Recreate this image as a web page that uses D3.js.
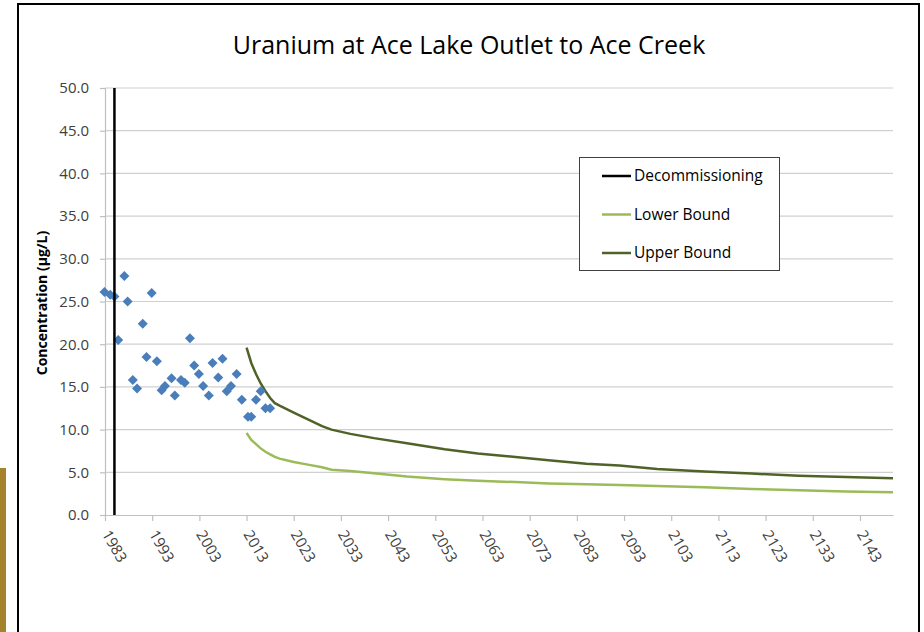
<!DOCTYPE html>
<html>
<head>
<meta charset="utf-8">
<script src="https://cdn.jsdelivr.net/npm/d3@7"></script>
<style>
  body { margin: 0; background: #fff; }
  svg { display: block; font-family: "Open Sans", "Noto Sans", sans-serif; }
</style>
</head>
<body>
<script>
const width = 924;
const height = 632;

// measured concentrations (decimal year, ug/L)
const sampleYears = [1982.9, 1984.1, 1985.0, 1985.8, 1987.1, 1987.8, 1988.9, 1989.8, 1991.0, 1991.8,
    1992.9, 1994.0, 1995.0, 1995.7, 1997.1, 1997.8, 1999.1, 1999.9, 2001.0, 2001.9,
    2002.9, 2003.8, 2005.0, 2005.8, 2007.0, 2007.9, 2008.8, 2009.7, 2010.9, 2012.0,
    2013.3, 2014.0, 2015.0, 2016.0, 2017.0, 2018.0];
const sampleValues = [26.1, 25.8, 25.6, 20.5, 28.0, 25.0, 15.8, 14.8, 22.4, 18.5,
    26.0, 18.0, 14.6, 15.1, 16.0, 14.0, 15.8, 15.5, 20.7, 17.5,
    16.5, 15.1, 14.0, 17.8, 16.1, 18.3, 14.5, 15.1, 16.5, 13.5,
    11.5, 11.5, 13.5, 14.5, 12.5, 12.5];

// projections
const projYears = [2013, 2014, 2015, 2016, 2017, 2018, 2019, 2020, 2023, 2026, 2029, 2031, 2035,
    2040, 2047, 2055, 2062, 2070, 2077, 2085, 2092, 2100, 2110, 2120, 2130, 2140, 2150];
const upperBound = [19.6, 17.8, 16.5, 15.4, 14.5, 13.7, 13.1, 12.8, 12.0, 11.2, 10.4, 10.0, 9.5,
    9.0, 8.4, 7.7, 7.2, 6.8, 6.4, 6.0, 5.8, 5.4, 5.1, 4.85, 4.6, 4.45, 4.3];
const lowerBound = [9.6, 8.8, 8.3, 7.8, 7.4, 7.1, 6.8, 6.6, 6.2, 5.9, 5.6, 5.3, 5.15,
    4.9, 4.5, 4.2, 4.0, 3.85, 3.7, 3.6, 3.5, 3.4, 3.25, 3.05, 2.9, 2.75, 2.65];

const decommissioningYear = 1985;

const xTicks = d3.range(1983, 2144, 10);
const yTicks = d3.range(0, 50.1, 5);

const legendItems = [
    { name: 'Decommissioning', color: '#000000' },
    { name: 'Lower Bound', color: '#9bbb59' },
    { name: 'Upper Bound', color: '#4f6228' }
];

const svg = d3.select('body')
    .append('svg')
    .attr('width', width)
    .attr('height', height);

// slide decoration + frame
svg.append('rect')
    .attr('x', 0).attr('y', 468)
    .attr('width', 6).attr('height', height - 468)
    .attr('fill', '#a3832b');

svg.append('path')
    .attr('d', `M18,${height} V4 H919 V${height}`)
    .attr('fill', 'none')
    .attr('stroke', '#000')
    .attr('stroke-width', 2);

const x = d3.scaleLinear().domain([1983, 2150]).range([105, 893]);
const y = d3.scaleLinear().domain([0, 50]).range([515, 88]);

// gridlines
svg.append('g')
    .selectAll('line')
    .data(yTicks.slice(1))
    .enter()
    .append('line')
    .attr('x1', x.range()[0])
    .attr('x2', x.range()[1])
    .attr('y1', (d) => y(d))
    .attr('y2', (d) => y(d))
    .attr('stroke', '#d0d0d0')
    .attr('stroke-width', 1.2);

// y axis
const yAxis = svg.append('g')
    .attr('transform', `translate(${x.range()[0]},0)`)
    .call(d3.axisLeft(y).tickValues(yTicks).tickFormat(d3.format('.1f')).tickSize(5).tickPadding(11));
yAxis.select('.domain').attr('stroke', '#c0c0c0').attr('stroke-width', 1.2);
yAxis.selectAll('.tick line').attr('stroke', '#c0c0c0').attr('stroke-width', 1.2);
yAxis.selectAll('.tick text')
    .attr('fill', '#404040')
    .style('font-size', '15px')
    .style('font-family', '"Open Sans", sans-serif');

// x axis
const xAxis = svg.append('g')
    .attr('transform', `translate(0,${y(0)})`)
    .call(d3.axisBottom(x).tickValues(xTicks).tickFormat(d3.format('d')).tickSize(6).tickSizeOuter(0));
xAxis.select('.domain').attr('stroke', '#c0c0c0').attr('stroke-width', 1.2);
xAxis.selectAll('.tick line').attr('stroke', '#c0c0c0').attr('stroke-width', 1.2);
xAxis.selectAll('.tick text')
    .attr('fill', '#404040')
    .attr('text-anchor', 'start')
    .attr('dy', null)
    .attr('y', 0)
    .attr('transform', 'translate(-4,19) rotate(60)')
    .style('font-size', '15px')
    .style('font-family', '"Open Sans", sans-serif');

// projection lines
const line = d3.line()
    .x((d) => x(d[0]))
    .y((d) => y(d[1]));

svg.append('path')
    .datum(d3.zip(projYears, lowerBound))
    .attr('d', line)
    .attr('fill', 'none')
    .attr('stroke', '#9bbb59')
    .attr('stroke-width', 2.5);

svg.append('path')
    .datum(d3.zip(projYears, upperBound))
    .attr('d', line)
    .attr('fill', 'none')
    .attr('stroke', '#4f6228')
    .attr('stroke-width', 2.5);

// measured points
svg.append('g')
    .selectAll('path')
    .data(d3.zip(sampleYears, sampleValues))
    .enter()
    .append('path')
    .attr('d', d3.symbol().type(d3.symbolSquare).size(50))
    .attr('transform', (d) => `translate(${x(d[0])},${y(d[1])}) rotate(45)`)
    .attr('fill', '#4a7ebb');

// decommissioning
svg.append('line')
    .attr('x1', x(decommissioningYear))
    .attr('x2', x(decommissioningYear))
    .attr('y1', y(0))
    .attr('y2', y(50))
    .attr('stroke', '#000')
    .attr('stroke-width', 2.5);

// title
svg.append('text')
    .attr('x', 469)
    .attr('y', 54)
    .attr('text-anchor', 'middle')
    .attr('fill', '#000')
    .style('font-size', '25px')
    .text('Uranium at Ace Lake Outlet to Ace Creek');

svg.append('text')
    .attr('transform', 'translate(47,303) rotate(-90)')
    .attr('text-anchor', 'middle')
    .attr('fill', '#000')
    .style('font-size', '14px')
    .style('font-weight', 'bold')
    .text('Concentration (µg/L)');

// legend
const legend = svg.append('g');
legend.append('rect')
    .attr('x', 579.5).attr('y', 157.5)
    .attr('width', 200).attr('height', 113)
    .attr('fill', '#fff')
    .attr('stroke', '#404040')
    .attr('stroke-width', 1);

const item = legend.selectAll('g.item')
    .data(legendItems)
    .enter()
    .append('g')
    .attr('class', 'item')
    .attr('transform', (d, i) => `translate(602,${176 + i * 38.5})`);

item.append('line')
    .attr('x1', 0).attr('x2', 29)
    .attr('stroke', (d) => d.color)
    .attr('stroke-width', 2.5);

item.append('text')
    .attr('x', 32)
    .attr('y', 5)
    .attr('fill', '#000')
    .style('font-size', '15.5px')
    .text((d) => d.name);
</script>
</body>
</html>
